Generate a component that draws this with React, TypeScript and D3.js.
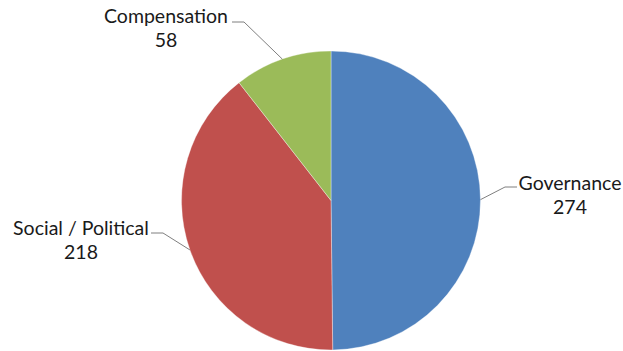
import React from "react";
import * as d3 from "d3";

const categories = ["Governance", "Social / Political", "Compensation"];
const values = [274, 218, 58];
const colors = ["#4F81BD", "#C0504D", "#9BBB59"];

const W = 623, H = 351;
const cx = 331, cy = 200.5, R = 149.5;

// label placement (text center x, first baseline y) and leader elbow
const labelPos = [
  { x: 570, y: 190, elbowX: 517, elbowY: 187, side: "right" },
  { x: 81, y: 235, elbowX: 163, elbowY: 233, side: "left" },
  { x: 166, y: 23, elbowX: 244, elbowY: 22, side: "left" },
];

export default function App() {
  const pie = d3.pie<number>().sort(null).value((d) => d);
  const arcs = pie(values);
  const arc = d3.arc<d3.PieArcDatum<number>>().innerRadius(0).outerRadius(R);
  const fontFamily = "Lato, 'Open Sans', sans-serif";
  return (
    <svg width={W} height={H} style={{ position: "absolute", left: 0, top: 0 }}>
      <rect width={W} height={H} fill="#fff" />
      <g transform={`translate(${cx},${cy})`}>
        {arcs.map((a, i) => (
          <path key={i} d={arc(a) || ""} fill={colors[i]} stroke="#fff" strokeWidth={0.6} strokeOpacity={0.6} />
        ))}
      </g>
      {arcs.map((a, i) => {
        const lp = labelPos[i];
        const ang = (a.startAngle + a.endAngle) / 2;
        const px = cx + R * Math.sin(ang);
        const py = cy - R * Math.cos(ang);
        const x1 = lp.side === "right" ? lp.elbowX : lp.elbowX - 12;
        const x2 = lp.side === "right" ? lp.elbowX - 12 : lp.elbowX;
        return (
          <g key={i}>
            <polyline
              points={`${x1},${lp.elbowY} ${x2},${lp.elbowY} ${px},${py}`}
              fill="none"
              stroke="#7f7f7f"
              strokeWidth={1}
            />
            <text x={lp.x} y={lp.y} textAnchor="middle" fontFamily={fontFamily} fontSize={19.5} fill="#1a1a1a">
              {categories[i]}
            </text>
            <text x={lp.x} y={lp.y + 24} textAnchor="middle" fontFamily={fontFamily} fontSize={19.5} fill="#1a1a1a">
              {values[i]}
            </text>
          </g>
        );
      })}
    </svg>
  );
}
